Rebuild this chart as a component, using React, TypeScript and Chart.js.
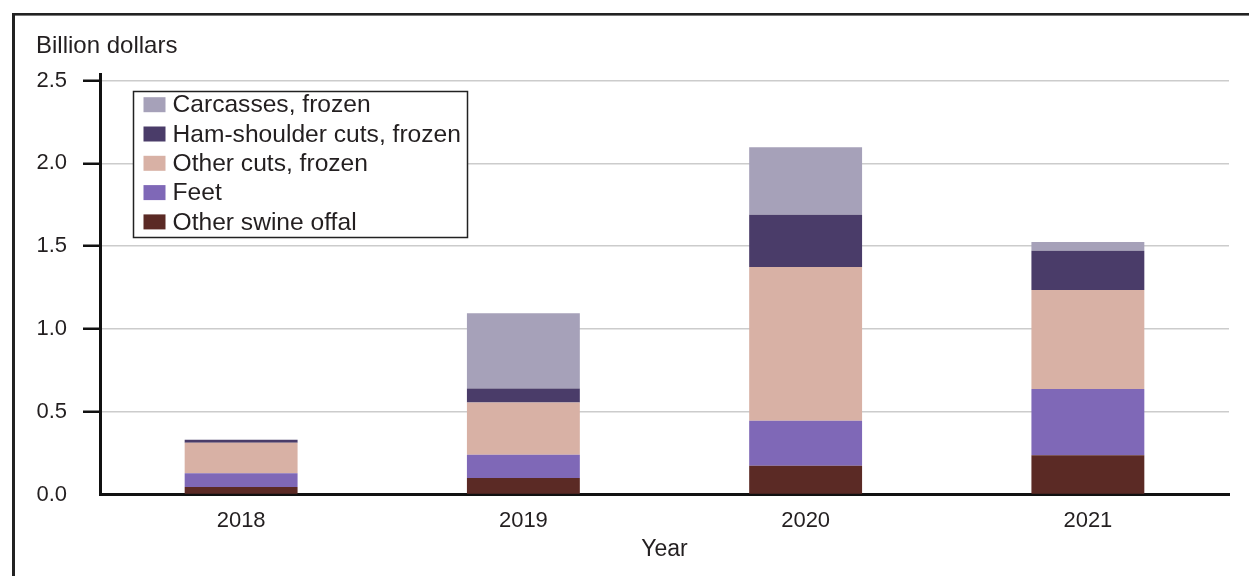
import React, { useEffect, useRef } from "react";
import { Chart, registerables } from "chart.js";

Chart.register(...registerables);

const years = ["2018", "2019", "2020", "2021"];
const otherSwineOffal = [0.046, 0.1, 0.174, 0.237];
const feet = [0.082, 0.14, 0.272, 0.401];
const otherCutsFrozen = [0.184, 0.316, 0.928, 0.598];
const hamShoulderCutsFrozen = [0.018, 0.085, 0.316, 0.236];
const carcassesFrozen = [0, 0.454, 0.407, 0.053];
const yTickValues = [0, 0.5, 1.0, 1.5, 2.0, 2.5];

const FONT = "'Liberation Sans', Arial, Helvetica, sans-serif";
const TEXT = "#231f20";

const overlay = {
  id: "overlay",
  beforeDraw(chart: any) {
    const ctx = chart.ctx;
    ctx.save();
    ctx.fillStyle = "#222";
    ctx.fillRect(12, 13, 3, chart.height);
    ctx.fillRect(12, 13, chart.width, 2.6);
    ctx.restore();
  },
  afterDraw(chart: any) {
    const ctx = chart.ctx;
    const ca = chart.chartArea;
    ctx.save();
    // axis titles
    ctx.fillStyle = TEXT;
    ctx.font = `24px ${FONT}`;
    ctx.textAlign = "left";
    ctx.textBaseline = "alphabetic";
    ctx.fillText("Billion dollars", 36, 53);
    ctx.font = `23px ${FONT}`;
    ctx.textAlign = "center";
    ctx.textBaseline = "middle";
    ctx.fillText("Year", (ca.left + ca.right) / 2, ca.bottom + 55);

    // legend
    const bx = 133.5, by = 91.5, bw = 334, bh = 146;
    ctx.fillStyle = "#fff";
    ctx.fillRect(bx, by, bw, bh);
    ctx.strokeStyle = "#222";
    ctx.lineWidth = 1.5;
    ctx.strokeRect(bx, by, bw, bh);
    const ds = chart.data.datasets.slice().reverse();
    ctx.font = `24.6px ${FONT}`;
    ctx.textAlign = "left";
    ctx.textBaseline = "middle";
    ds.forEach((d: any, i: number) => {
      const cy = by + 13.2 + i * 29.3;
      ctx.fillStyle = d.backgroundColor;
      ctx.fillRect(bx + 10, cy - 7.5, 22, 15);
      ctx.fillStyle = TEXT;
      ctx.fillText(d.label, bx + 39, cy + 1);
    });
    ctx.restore();
  },
};

export default function App() {
  const ref = useRef<HTMLCanvasElement | null>(null);
  useEffect(() => {
    if (!ref.current) return;
    const chart = new Chart(ref.current, {
      type: "bar",
      data: {
        labels: years,
        datasets: [
          { label: "Other swine offal", data: otherSwineOffal, backgroundColor: "#5b2a25" },
          { label: "Feet", data: feet, backgroundColor: "#7f68b7" },
          { label: "Other cuts, frozen", data: otherCutsFrozen, backgroundColor: "#d8b1a5" },
          { label: "Ham-shoulder cuts, frozen", data: hamShoulderCutsFrozen, backgroundColor: "#4a3c69" },
          { label: "Carcasses, frozen", data: carcassesFrozen, backgroundColor: "#a6a1b9" },
        ],
      },
      options: {
        animation: false,
        responsive: false,
        devicePixelRatio: 1,
        layout: { padding: { top: 74, right: 20, left: 0, bottom: 0 } },
        datasets: { bar: { barPercentage: 0.4, categoryPercentage: 1, borderWidth: 0 } },
        plugins: { legend: { display: false }, tooltip: { enabled: false }, title: { display: false } },
        scales: {
          x: {
            stacked: true,
            grid: { display: true, drawOnChartArea: false, drawTicks: false },
            border: { color: "#111", width: 3 },
            ticks: { font: { family: FONT, size: 22 }, color: TEXT, padding: 13 },
            afterFit: (s: any) => { s.height = 81.5; },
          },
          y: {
            stacked: true,
            min: 0,
            max: 2.54,
            afterBuildTicks: (s: any) => { s.ticks = yTickValues.map((v) => ({ value: v })); },
            ticks: {
              font: { family: FONT, size: 22 },
              color: TEXT,
              padding: 16,
              callback: (v: any) => Number(v).toFixed(1),
            },
            grid: {
              color: "#cccccc",
              lineWidth: 1.5,
              tickLength: 17,
              tickWidth: 2.5,
              tickColor: (c: any) => (c.tick && c.tick.value === 0 ? "rgba(0,0,0,0)" : "#111"),
            },
            border: { color: "#111", width: 3 },
            afterFit: (s: any) => { s.width = 100; },
          },
        },
      },
      plugins: [overlay],
    });
    return () => chart.destroy();
  }, []);
  return (
    <div style={{ position: "fixed", left: 0, top: 0, width: 1249, height: 576, overflow: "hidden", background: "#fff" }}>
      <canvas ref={ref} width={1249} height={576} style={{ display: "block" }} />
    </div>
  );
}
